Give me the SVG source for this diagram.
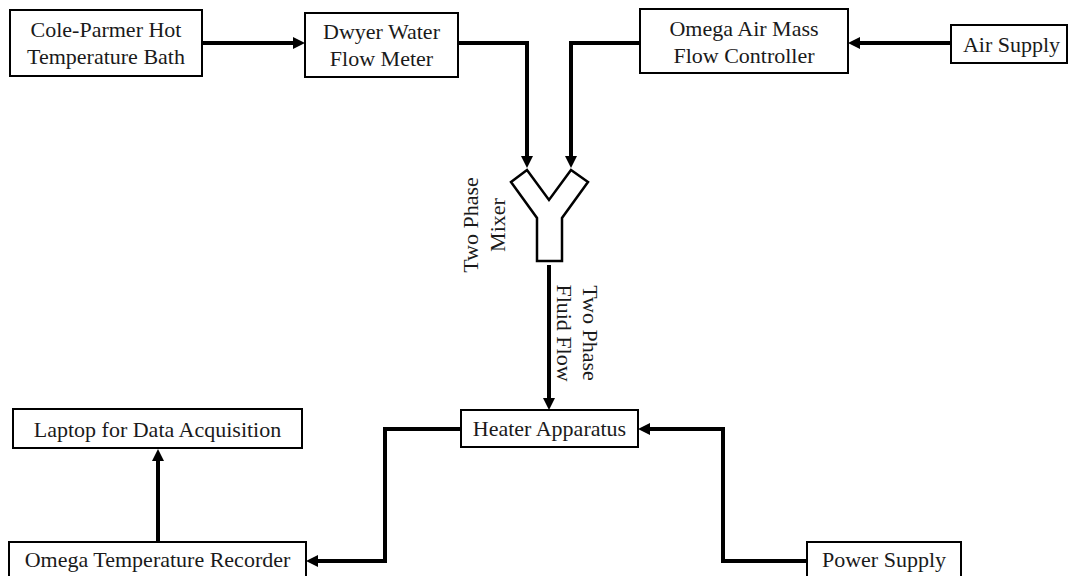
<svg xmlns="http://www.w3.org/2000/svg" width="1068" height="576" viewBox="0 0 1068 576">
<style>
.box{fill:#fff;stroke:#000;stroke-width:2}
.t{font-family:"Liberation Serif","Times New Roman",serif;font-size:22px;fill:#1a1a1a;text-anchor:middle}
.c{fill:none;stroke:#000;stroke-width:4;marker-end:url(#ah)}
</style>
<defs>
<marker id="ah" markerUnits="userSpaceOnUse" markerWidth="14" markerHeight="14" refX="2" refY="6" orient="auto">
<path d="M0,0 L12,6 L0,12 z" fill="#000"/>
</marker>
</defs>
<rect width="1068" height="576" fill="#fff"/>
<g id="connectors">
<path class="c" d="M202,43 H295"/>
<path class="c" d="M458,43 H527 V158"/>
<path class="c" d="M640,43 H571 V158"/>
<path class="c" d="M951,43 H858"/>
<path class="c" d="M549,265 V400"/>
<path class="c" d="M461,429 H385 V561 H316"/>
<path class="c" d="M807,561 H723 V429 H648"/>
<path class="c" d="M158,542 V459"/>
</g>
<g id="cole">
<rect class="box" x="10" y="10" width="192" height="66"/>
<text class="t" x="106" y="37">Cole-Parmer Hot</text>
<text class="t" x="106" y="64">Temperature Bath</text>
</g>
<g id="dwyer">
<rect class="box" x="305" y="13" width="153" height="64"/>
<text class="t" x="381.5" y="39">Dwyer Water</text>
<text class="t" x="381.5" y="66">Flow Meter</text>
</g>
<g id="omega-air">
<rect class="box" x="640" y="9" width="208" height="64"/>
<text class="t" x="744" y="36">Omega Air Mass</text>
<text class="t" x="744" y="63">Flow Controller</text>
</g>
<g id="air-supply">
<rect class="box" x="951" y="25" width="116" height="38"/>
<text class="t" x="1011.5" y="52">Air Supply</text>
</g>
<g id="mixer">
<polygon points="511,182 527,170 549,200 571,170 588,182 562,218 562,261 537,261 537,218" fill="#fff" stroke="#000" stroke-width="2.5" stroke-linejoin="miter"/>
<text class="t" transform="translate(478,225) rotate(-90)">Two Phase</text>
<text class="t" transform="translate(505,225) rotate(-90)">Mixer</text>
</g>
<g id="flow-label">
<text class="t" transform="translate(583,333) rotate(90)">Two Phase</text>
<text class="t" transform="translate(557,333) rotate(90)">Fluid Flow</text>
</g>
<g id="heater">
<rect class="box" x="461" y="410" width="177" height="37"/>
<text class="t" x="549.5" y="436">Heater Apparatus</text>
</g>
<g id="laptop">
<rect class="box" x="13" y="409" width="289" height="39"/>
<text class="t" x="157.5" y="437">Laptop for Data Acquisition</text>
</g>
<g id="recorder">
<rect class="box" x="9" y="542" width="297" height="40"/>
<text class="t" x="157.5" y="567">Omega Temperature Recorder</text>
</g>
<g id="power">
<rect class="box" x="807" y="542" width="154" height="40"/>
<text class="t" x="884" y="567">Power Supply</text>
</g>
</svg>
